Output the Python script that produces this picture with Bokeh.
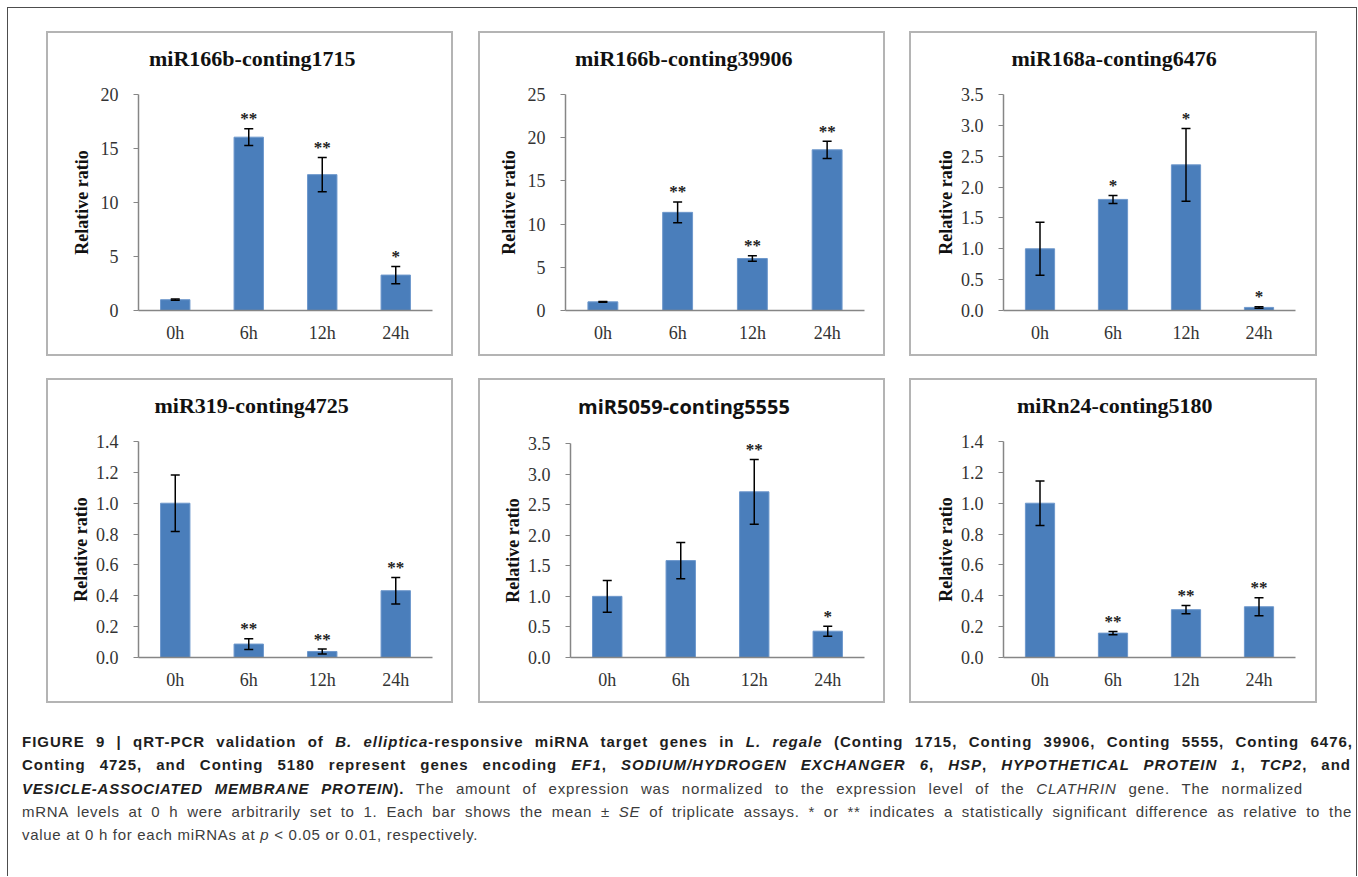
import numpy as np
from bokeh.plotting import figure
from bokeh.models import (ColumnDataSource, Whisker, TeeHead, FactorRange, Range1d,
                          FixedTicker, NumeralTickFormatter, Spacer, Div, Title)
from bokeh.layouts import column, row
from bokeh.core.properties import value
from bokeh.embed import file_html
from bokeh.resources import INLINE

# ---------------- data ----------------
hours = ["0h", "6h", "12h", "24h"]

title1 = "miR166b-conting1715"
mean1 = [1.0, 16.05, 12.58, 3.28]
se1 = [0.06, 0.78, 1.58, 0.80]
sig1 = ["", "**", "**", "*"]

title2 = "miR166b-conting39906"
mean2 = [1.0, 11.36, 6.02, 18.6]
se2 = [0.04, 1.2, 0.32, 1.0]
sig2 = ["", "**", "**", "**"]

title3 = "miR168a-conting6476"
mean3 = [1.0, 1.80, 2.36, 0.05]
se3 = [0.43, 0.065, 0.59, 0.012]
sig3 = ["", "*", "*", "*"]

title4 = "miR319-conting4725"
mean4 = [1.0, 0.087, 0.039, 0.433]
se4 = [0.183, 0.035, 0.016, 0.086]
sig4 = ["", "**", "**", "**"]

title5 = "miR5059-conting5555"
mean5 = [1.0, 1.585, 2.71, 0.43]
se5 = [0.26, 0.295, 0.53, 0.083]
sig5 = ["", "", "**", "*"]

title6 = "miRn24-conting5180"
mean6 = [1.0, 0.158, 0.31, 0.329]
se6 = [0.144, 0.01, 0.027, 0.058]
sig6 = ["", "**", "**", "**"]

ylabel = "Relative ratio"

BAR = "#4a7ebb"
AXIS = "#868686"
SERIF = "Liberation Serif"
BORDER = "#b4b4b4"
H = 325


def panel(title, means, ses, sigs, ymax, step, fmt, left, width, title_w,
          title_font=SERIF, title_size="22px"):
    up = [m + s for m, s in zip(means, ses)]
    lo = [m - s for m, s in zip(means, ses)]
    src = ColumnDataSource(dict(x=hours, top=means, upper=up, lower=lo, sig=sigs))
    right_px = 386
    fw, fh = width - 4, H - 4
    p = figure(x_range=FactorRange(*hours), y_range=Range1d(0, ymax),
               width=fw, height=fh, output_backend="svg", toolbar_location=None,
               min_border_left=left - 2, min_border_right=width - right_px - 2,
               min_border_top=61, min_border_bottom=44)
    p.vbar(x="x", top="top", width=0.4, source=src, fill_color=BAR,
           line_color="#6e98cc", line_width=1)
    w = Whisker(base="x", upper="upper", lower="lower", source=src,
                line_color="black", line_width=1.5, level="overlay",
                upper_head=TeeHead(size=9, line_color="black", line_width=1.5),
                lower_head=TeeHead(size=9, line_color="black", line_width=1.5))
    p.add_layout(w)
    p.text(x="x", y="upper", text="sig", source=src, text_align="center",
           text_baseline="alphabetic", y_offset=-10,
           text_font=value(SERIF), text_font_size="17px", text_font_style="bold",
           text_color="#222222")

    # spacing title (closest to the frame), then the real title above it
    p.add_layout(Title(text=" ", text_font_size="1px", standoff=7), "above")
    p.add_layout(Title(text=title, text_font=title_font, text_font_style="bold",
                       text_font_size=title_size, text_color="#111111",
                       align="left", vertical_align="top",
                       offset=205 - title_w / 2 - left, standoff=24), "above")

    p.xgrid.grid_line_color = None
    p.ygrid.grid_line_color = None
    p.outline_line_color = None

    xa = p.xaxis[0]
    xa.axis_line_color = AXIS
    xa.axis_line_width = 1.5
    xa.major_tick_line_color = None
    xa.major_tick_out = 0
    xa.major_tick_in = 0
    xa.minor_tick_line_color = None
    xa.major_label_text_font = SERIF
    xa.major_label_text_font_size = "18px"
    xa.major_label_text_color = "#333333"
    xa.major_label_standoff = 12

    ya = p.yaxis[0]
    ticks = list(np.round(np.arange(0, ymax + step / 2, step), 3))
    ya.ticker = FixedTicker(ticks=ticks)
    ya.formatter = NumeralTickFormatter(format=fmt)
    ya.axis_line_color = AXIS
    ya.axis_line_width = 1.5
    ya.major_tick_line_color = AXIS
    ya.major_tick_out = 5
    ya.major_tick_in = 0
    ya.minor_tick_line_color = None
    ya.major_label_text_font = SERIF
    ya.major_label_text_font_size = "18px"
    ya.major_label_text_color = "#333333"
    ya.major_label_standoff = 15
    ya.axis_label = ylabel
    ya.axis_label_text_font = SERIF
    ya.axis_label_text_font_style = "bold"
    ya.axis_label_text_font_size = "18px"
    ya.axis_label_text_color = "#111111"
    lblw = 18 if fmt == "0" else 22.5
    ya.axis_label_standoff = int(round(24.5 - lblw))

    bg = {"background-color": BORDER}
    box = column(
        Spacer(width=width, height=2, styles=bg),
        row(Spacer(width=2, height=fh, styles=bg), p, Spacer(width=2, height=fh, styles=bg)),
        Spacer(width=width, height=2, styles=bg),
    )
    return box


p1 = panel(title1, mean1, se1, sig1, 20, 5, "0", 92, 407, 205)
p2 = panel(title2, mean2, se2, sig2, 25, 5, "0", 87, 407, 217)
p3 = panel(title3, mean3, se3, sig3, 3.5, 0.5, "0.0", 94, 408, 206)
p4 = panel(title4, mean4, se4, sig4, 1.4, 0.2, "0.0", 92, 407, 194)
p5 = panel(title5, mean5, se5, sig5, 3.5, 0.5, "0.0", 92, 407, 211,
           title_font="Open Sans", title_size="20px")
p6 = panel(title6, mean6, se6, sig6, 1.4, 0.2, "0.0", 94, 408, 195)

B = '<span style="font-weight:bold;color:#1e1e1e;">'
cap_lines = [
    (B + 'FIGURE 9 | qRT-PCR validation of <i>B. elliptica</i>-responsive miRNA target genes in '
     '<i>L. regale</i> (Conting 1715, Conting 39906, Conting 5555, Conting 6476,</span>', 1331, True, "1.0px"),
    (B + 'Conting 4725, and Conting 5180 represent genes encoding <i>EF1</i>, '
     '<i>SODIUM/HYDROGEN EXCHANGER 6</i>, <i>HSP</i>, <i>HYPOTHETICAL PROTEIN 1</i>, <i>TCP2</i>, and</span>', 1329, True, "1.0px"),
    (B + '<i>VESICLE-ASSOCIATED MEMBRANE PROTEIN</i>).</span> The amount of expression was normalized to '
     'the expression level of the <i>CLATHRIN</i> gene. The normalized', 1281, True, "0.8px"),
    ('mRNA levels at 0 h were arbitrarily set to 1. Each bar shows the mean &plusmn; <i>SE</i> of triplicate '
     'assays. * or ** indicates a statistically significant difference as relative to the', 1330, True, "0.7px"),
    ('value at 0 h for each miRNAs at <i>p</i> &lt; 0.05 or 0.01, respectively.', 1330, False, "0.7px"),
]
html = '<div style="font-family:\'Liberation Sans\';font-size:15px;line-height:23.3px;color:#3c3c3c;">'
for txt, wd, just, ls in cap_lines:
    align = "text-align:justify;text-align-last:justify;" if just else "text-align:left;"
    html += (f'<div style="width:{wd}px;white-space:nowrap;letter-spacing:{ls};{align}">'
             f'{txt}</div>')
html += '</div>'
caption = Div(text=html, width=1336, height=125)

row1 = row(Spacer(width=38), p1, Spacer(width=25), p2, Spacer(width=24), p3)
row2 = row(Spacer(width=38), p4, Spacer(width=25), p5, Spacer(width=24), p6)
caprow = row(Spacer(width=9), caption)

inner = column(Spacer(height=23), row1, Spacer(height=22), row2, Spacer(height=22),
               caprow, Spacer(height=26), width=1348)

FRAME = "#4d4d4d"
top_line = row(Spacer(width=7), Spacer(width=1350, height=1, styles={"background-color": FRAME}))
side_l = Spacer(width=1, height=868, styles={"background-color": FRAME})
side_r = Spacer(width=1, height=868, styles={"background-color": FRAME})
root = column(Spacer(height=7), top_line,
              row(Spacer(width=7), side_l, inner, side_r))

open("out.html", "w").write(file_html(root, INLINE))
